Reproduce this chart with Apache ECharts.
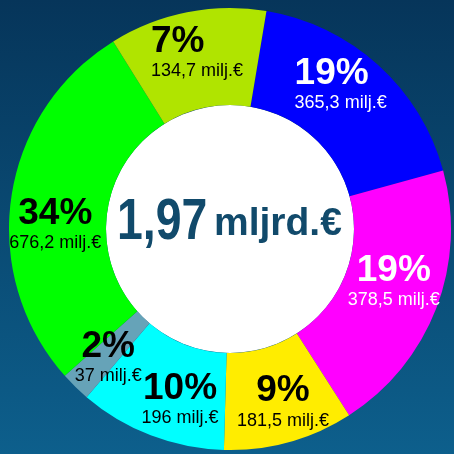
<!DOCTYPE html>
<html><head><meta charset="utf-8">
<script src="https://cdn.jsdelivr.net/npm/echarts@6/dist/echarts.min.js"></script>
<style>html,body{margin:0;padding:0;background:#0a4a72;}#c{width:454px;height:454px;}</style>
</head><body><div id="c"></div>
<script>
// ---- data ----
const categories = ['Osa A', 'Osa B', 'Osa C', 'Osa D', 'Osa E', 'Osa F', 'Osa G'];
const amounts = [365.3, 378.5, 181.5, 196, 37, 676.2, 134.7];          // milj.€ (labels)
// slice sizes as actually drawn in the reference picture (% of the ring)
const drawnShare = [18.1, 20.2, 9.5, 10.8, 2.2, 27.7, 11.5];
const unitLabel = 'milj.€';
const totalUnit = 'mljrd.€';

// ---- styles ----
const colors = ['#0000FF', '#FF00FF', '#FFED00', '#00FFFF', '#66A3B8', '#00FF00', '#B0E400'];
const whiteText = [true, true, false, false, false, false, false];
const leftAlign = [true, false, false, false, false, false, true];
const labelNudge = [[-7, -14], [0, -10], [6, 4], [13, 7], [1, 3], [-1, 21], [1, -4]];
const CX = 230, CY = 229, R_IN = 124, R_OUT = 221;
const FONT = '"Liberation Sans", Arial, sans-serif';

const total = amounts.reduce((a, b) => a + b, 0);
const fmt = v => String(v).replace('.', ',');

const rich = {};
[['k', '#000'], ['w', '#fff']].forEach(([c, col]) => {
  [['c', 'center'], ['l', 'left']].forEach(([a, al]) => {
    rich['p' + c + a] = { fontFamily: FONT, fontWeight: 'bold', fontSize: 37, lineHeight: 37, color: col, align: al };
    rich['v' + c + a] = { fontFamily: FONT, fontSize: 18, lineHeight: 22, color: col, align: al };
  });
});

const chart = echarts.init(document.getElementById('c'), null, { renderer: 'canvas' });
chart.setOption({
  animation: false,
  backgroundColor: new echarts.graphic.LinearGradient(0, 0, 0, 1, [
    { offset: 0, color: '#06355a' }, { offset: 1, color: '#0d5f8c' }
  ]),
  series: [
    {
      type: 'pie',
      silent: true,
      center: [CX, CY],
      radius: [0, R_IN],
      label: { show: false },
      labelLine: { show: false },
      data: [{ value: 1, itemStyle: { color: '#ffffff' } }]
    },
    {
      type: 'pie',
      silent: true,
      center: [CX, CY],
      radius: [R_IN, R_OUT],
      startAngle: 80.5,
      clockwise: true,
      minShowLabelAngle: 0,
      avoidLabelOverlap: false,
      labelLine: { show: false },
      label: {
        show: true,
        position: 'inside',
        formatter: p => {
          const i = p.dataIndex;
          const c = whiteText[i] ? 'w' : 'k';
          const a = leftAlign[i] ? 'l' : 'c';
          const pct = Math.round(amounts[i] / total * 100) + '%';
          return '{p' + c + a + '|' + pct + '}\n{v' + c + a + '|' + fmt(amounts[i]) + ' ' + unitLabel + '}';
        },
        rich: rich
      },
      labelLayout: function (params) {
        const n = labelNudge[params.dataIndex];
        return { dx: n[0], dy: n[1], hideOverlap: false, moveOverlap: false };
      },
      data: categories.map((n, i) => ({ name: n, value: drawnShare[i], itemStyle: { color: colors[i] } }))
    }
  ],
  graphic: [
    {
      type: 'text', x: 117, y: 223, z: 100, scaleX: 0.8, originX: 0, originY: 0,
      style: { text: (total / 1000).toFixed(2).replace('.', ','), font: 'bold 58px ' + FONT, fill: '#114a6b', align: 'left', verticalAlign: 'middle' }
    },
    {
      type: 'text', x: 214, y: 224, z: 100,
      style: { text: totalUnit, font: 'bold 39px ' + FONT, fill: '#114a6b', align: 'left', verticalAlign: 'middle' }
    }
  ]
});
</script>
</body></html>
